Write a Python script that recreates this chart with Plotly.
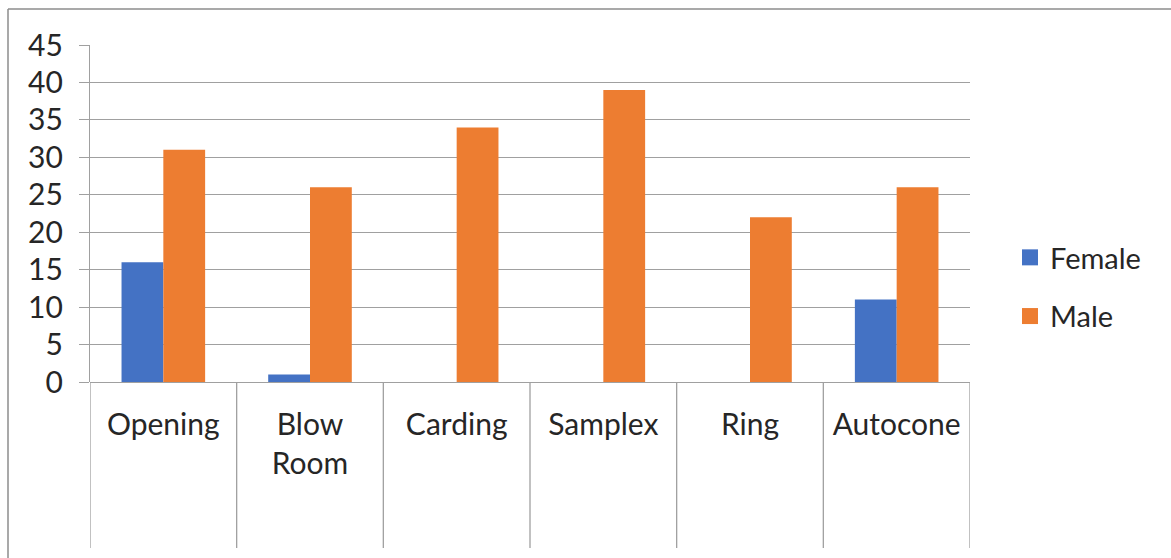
import plotly.graph_objects as go

categories = ["Opening", "Blow<br>Room", "Carding", "Samplex", "Ring", "Autocone"]
female = [16, 1, 0, 0, 0, 11]
male = [31, 26, 34, 39, 22, 26]
series_names = ["Female", "Male"]
colors = ["#4472C4", "#ED7D31"]
y_ticks = [0, 5, 10, 15, 20, 25, 30, 35, 40, 45]

FONT = "Lato"
TXT = "#262626"
GRID = "#A0A0A0"

W, H = 1171, 558
L, R, T, B = 90, W - 970, 45, H - 382
plot_h = H - T - B
plot_w = W - L - R

fig = go.Figure()
for name, vals, col in zip(series_names, [female, male], colors):
    fig.add_trace(go.Bar(x=categories, y=vals, name=name, marker=dict(color=col, line=dict(width=0)),
                         showlegend=False))
    fig.add_trace(go.Scatter(x=[None], y=[None], mode="markers", name=name, legendgroup=name,
                             marker=dict(symbol="square", size=16, color=col)))

shapes = []
# category dividers extending below the axis
n = len(categories)
below = -(548 - 382) / plot_h
for i in range(n + 1):
    shapes.append(dict(type="line", xref="x", yref="paper", x0=i - 0.5, x1=i - 0.5,
                       y0=below, y1=0, line=dict(color=GRID, width=1.3)))
# chart border (left and top)
top_y = (H - B - 9) / plot_h
left_x = (8 - L) / plot_w
shapes.append(dict(type="line", xref="paper", yref="paper",
                   x0=left_x, x1=left_x, y0=top_y, y1=-(H - B) / plot_h,
                   line=dict(color="#8C8C8C", width=1.5)))
shapes.append(dict(type="line", xref="paper", yref="paper",
                   x0=left_x, x1=(W + 5 - L) / plot_w, y0=top_y, y1=top_y,
                   line=dict(color="#8C8C8C", width=1.5)))

fig.update_layout(
    width=W, height=H,
    margin=dict(l=L, r=R, t=T, b=B),
    paper_bgcolor="white", plot_bgcolor="white",
    barmode="group", bargap=0.43, bargroupgap=0,
    font=dict(family=FONT, size=30, color=TXT),
    shapes=shapes,
    legend=dict(x=(1010 - L) / plot_w, xanchor="left", y=(382 - 287) / plot_h, yanchor="middle",
                font=dict(family=FONT, size=29, color=TXT),
                traceorder="grouped", tracegroupgap=18, itemwidth=30,
                bgcolor="rgba(0,0,0,0)"),
    xaxis=dict(type="category", showgrid=False, showline=False, ticks="",
               tickfont=dict(family=FONT, size=30, color=TXT), ticklabelstandoff=22,
               range=[-0.5, n - 0.5], fixedrange=True),
    yaxis=dict(range=[0, 45], tickvals=y_ticks, showgrid=True, gridcolor=GRID, gridwidth=1,
               zeroline=True, zerolinecolor=GRID, zerolinewidth=1,
               showline=True, linecolor=GRID, linewidth=1.3,
               ticks="outside", ticklen=10, tickcolor=GRID, tickwidth=1,
               ticklabelstandoff=10,
               tickfont=dict(family=FONT, size=30, color=TXT), fixedrange=True),
)

fig.write_html("out.html")
